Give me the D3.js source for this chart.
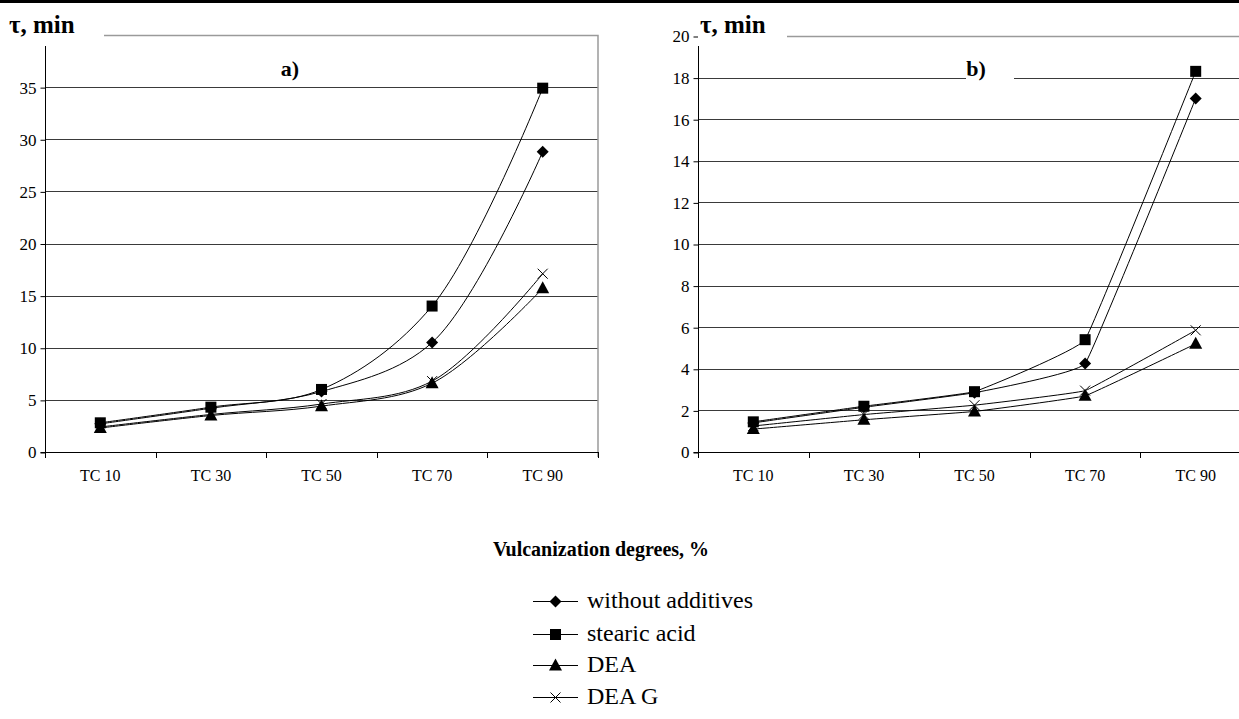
<!DOCTYPE html>
<html>
<head>
<meta charset="utf-8">
<script src="https://cdn.jsdelivr.net/npm/d3@7"></script>
<style>
  body { margin: 0; background: #fff; }
  svg { display: block; }
  text { font-family: "Liberation Serif", "DejaVu Serif", serif; }
</style>
</head>
<body>
<svg id="chart" width="1239" height="719"></svg>
<script>
// Vulcanization stages on the x axis
const categories = ["TC 10", "TC 30", "TC 50", "TC 70", "TC 90"];
const seriesNames = ["without additives", "stearic acid", "DEA", "DEA G"];
const markerTypes = ["diamond", "square", "triangle", "cross"];

// Panel a) times, min
const aWithout = [2.7, 4.2, 5.8, 10.5, 28.8];
const aStearic = [2.8, 4.3, 6.0, 14.0, 34.9];
const aDEA     = [2.3, 3.5, 4.4, 6.6, 15.7];
const aDEAG    = [2.4, 3.6, 4.6, 6.8, 17.1];
const aTicks   = [0, 5, 10, 15, 20, 25, 30, 35];

// Panel b) times, min
const bWithout = [1.4, 2.15, 2.85, 4.25, 17.0];
const bStearic = [1.45, 2.2, 2.9, 5.4, 18.3];
const bDEA     = [1.1, 1.55, 1.95, 2.7, 5.2];
const bDEAG    = [1.25, 1.8, 2.25, 2.95, 5.85];
const bTicks   = [0, 2, 4, 6, 8, 10, 12, 14, 16, 18, 20];

const svg = d3.select("#chart");

// heavy rule across the top of the figure
svg.append("rect").attr("x", 0).attr("y", 0).attr("width", 1239).attr("height", 3).attr("fill", "#000");

const panels = [
  { left: 45, right: 598, bottom: 452, top: 35, max: 40, ticks: aTicks,
    series: [aWithout, aStearic, aDEA, aDEAG], tag: "a)", tagX: 290,
    titleBox: [0, 104], titleX: 9, curve: d3.curveCatmullRom.alpha(0.5), tagBox: false },
  { left: 698, right: 1251, bottom: 452, top: 36, max: 20, ticks: bTicks,
    series: [bWithout, bStearic, bDEA, bDEAG], tag: "b)", tagX: 976,
    titleBox: [698, 787], titleX: 700, curve: d3.curveCardinal.tension(0.8), tagBox: true }
];

function drawMarker(g, type, cx, cy) {
  if (type === "square") {
    g.append("rect").attr("x", cx - 5.5).attr("y", cy - 5.5).attr("width", 11).attr("height", 11).attr("fill", "#000");
  } else if (type === "diamond") {
    g.append("path").attr("d", `M${cx},${cy - 6}L${cx + 6},${cy}L${cx},${cy + 6}L${cx - 6},${cy}Z`).attr("fill", "#000");
  } else if (type === "triangle") {
    g.append("path").attr("d", `M${cx},${cy - 7}L${cx + 6.5},${cy + 5}L${cx - 6.5},${cy + 5}Z`).attr("fill", "#000");
  } else {
    g.append("path").attr("d", `M${cx - 5},${cy - 5}L${cx + 5},${cy + 5}M${cx + 5},${cy - 5}L${cx - 5},${cy + 5}`)
      .attr("stroke", "#000").attr("stroke-width", 1).attr("fill", "none");
  }
}

panels.forEach(p => {
  const g = svg.append("g");
  const x = d3.scaleBand().domain(categories).range([p.left, p.right]).padding(0);
  const y = d3.scaleLinear().domain([0, p.max]).range([p.bottom, p.top]);
  const cx = c => x(c) + x.bandwidth() / 2;

  // horizontal gridlines
  g.selectAll("line.grid").data(p.ticks.filter(t => t > 0 && t < p.max)).join("line")
    .attr("x1", p.left).attr("x2", p.right)
    .attr("y1", d => Math.round(y(d)) + 0.5).attr("y2", d => Math.round(y(d)) + 0.5)
    .attr("stroke", "#3a3a3a").attr("stroke-width", 1);

  // plot-area frame: top and right
  g.append("path")
    .attr("d", `M${p.left},${Math.round(y(p.max)) + 0.5}H${p.right}V${p.bottom + 5}`)
    .attr("fill", "none").attr("stroke", "#9a9a9a").attr("stroke-width", 1.5);

  // y axis
  const yAxis = d3.axisLeft(y).tickValues(p.ticks).tickSize(5).tickPadding(4).tickFormat(d3.format("d"));
  const ya = g.append("g").attr("transform", `translate(${p.left + 0.5},0.5)`).call(yAxis);
  ya.attr("font-family", null);
  ya.select(".domain").attr("stroke", "#000").attr("d", `M-5,${p.bottom}H0V${p.top}`);
  ya.selectAll(".tick line").attr("stroke", "#000");
  ya.selectAll(".tick text").attr("font-size", 17).attr("fill", "#000");

  // x axis: labels at band centres, ticks at band boundaries
  const xAxis = d3.axisBottom(x).tickSize(0).tickPadding(17);
  const xa = g.append("g").attr("transform", `translate(0,${p.bottom + 0.5})`).call(xAxis);
  xa.attr("font-family", null);
  xa.select(".domain").attr("stroke", "#000").attr("d", `M${p.left},0H${p.right}`);
  xa.selectAll(".tick text").attr("font-size", 16).attr("fill", "#000");
  const bounds = categories.map(c => x(c)).concat([p.right]);
  g.selectAll("line.xt").data(bounds).join("line")
    .attr("x1", d => Math.round(d) + 0.5).attr("x2", d => Math.round(d) + 0.5)
    .attr("y1", p.bottom).attr("y2", p.bottom + 6)
    .attr("stroke", "#000");

  // series lines and markers
  p.series.forEach((vals, i) => {
    const pts = categories.map((c, k) => [cx(c), y(vals[k])]);
    g.append("path").attr("d", d3.line().curve(p.curve)(pts))
      .attr("fill", "none").attr("stroke", "#000").attr("stroke-width", 1);
  });
  p.series.forEach((vals, i) => {
    categories.forEach((c, k) => drawMarker(g, markerTypes[i], cx(c), y(vals[k])));
  });

  // axis title on a white patch
  g.append("rect").attr("x", p.titleBox[0]).attr("y", 8).attr("width", p.titleBox[1] - p.titleBox[0]).attr("height", 38).attr("fill", "#fff");
  g.append("text").attr("x", p.titleX).attr("y", 33)
    .attr("font-weight", "bold").attr("font-size", 25).text("τ, min");

  // panel tag
  if (p.tagBox) {
    g.append("rect").attr("x", p.tagX - 10).attr("y", 55).attr("width", 48).attr("height", 27).attr("fill", "#fff");
  }
  g.append("text").attr("x", p.tagX).attr("y", 76).attr("text-anchor", "middle")
    .attr("font-weight", "bold").attr("font-size", 22).text(p.tag);
});

// shared x-axis title
svg.append("text").attr("x", 601).attr("y", 556).attr("text-anchor", "middle")
  .attr("font-weight", "bold").attr("font-size", 20)
  .text("Vulcanization degrees, %");

// legend
const legend = svg.append("g");
const rowY = [601, 634, 665, 697];
seriesNames.forEach((name, i) => {
  legend.append("line").attr("x1", 533).attr("x2", 578).attr("y1", rowY[i] + 0.5).attr("y2", rowY[i] + 0.5)
    .attr("stroke", "#000").attr("stroke-width", 1);
  drawMarker(legend, markerTypes[i], 555.5, rowY[i] + 0.5);
  legend.append("text").attr("x", 587).attr("y", rowY[i] + 7)
    .attr("font-size", 24).attr("fill", "#000").text(name);
});
</script>
</body>
</html>
